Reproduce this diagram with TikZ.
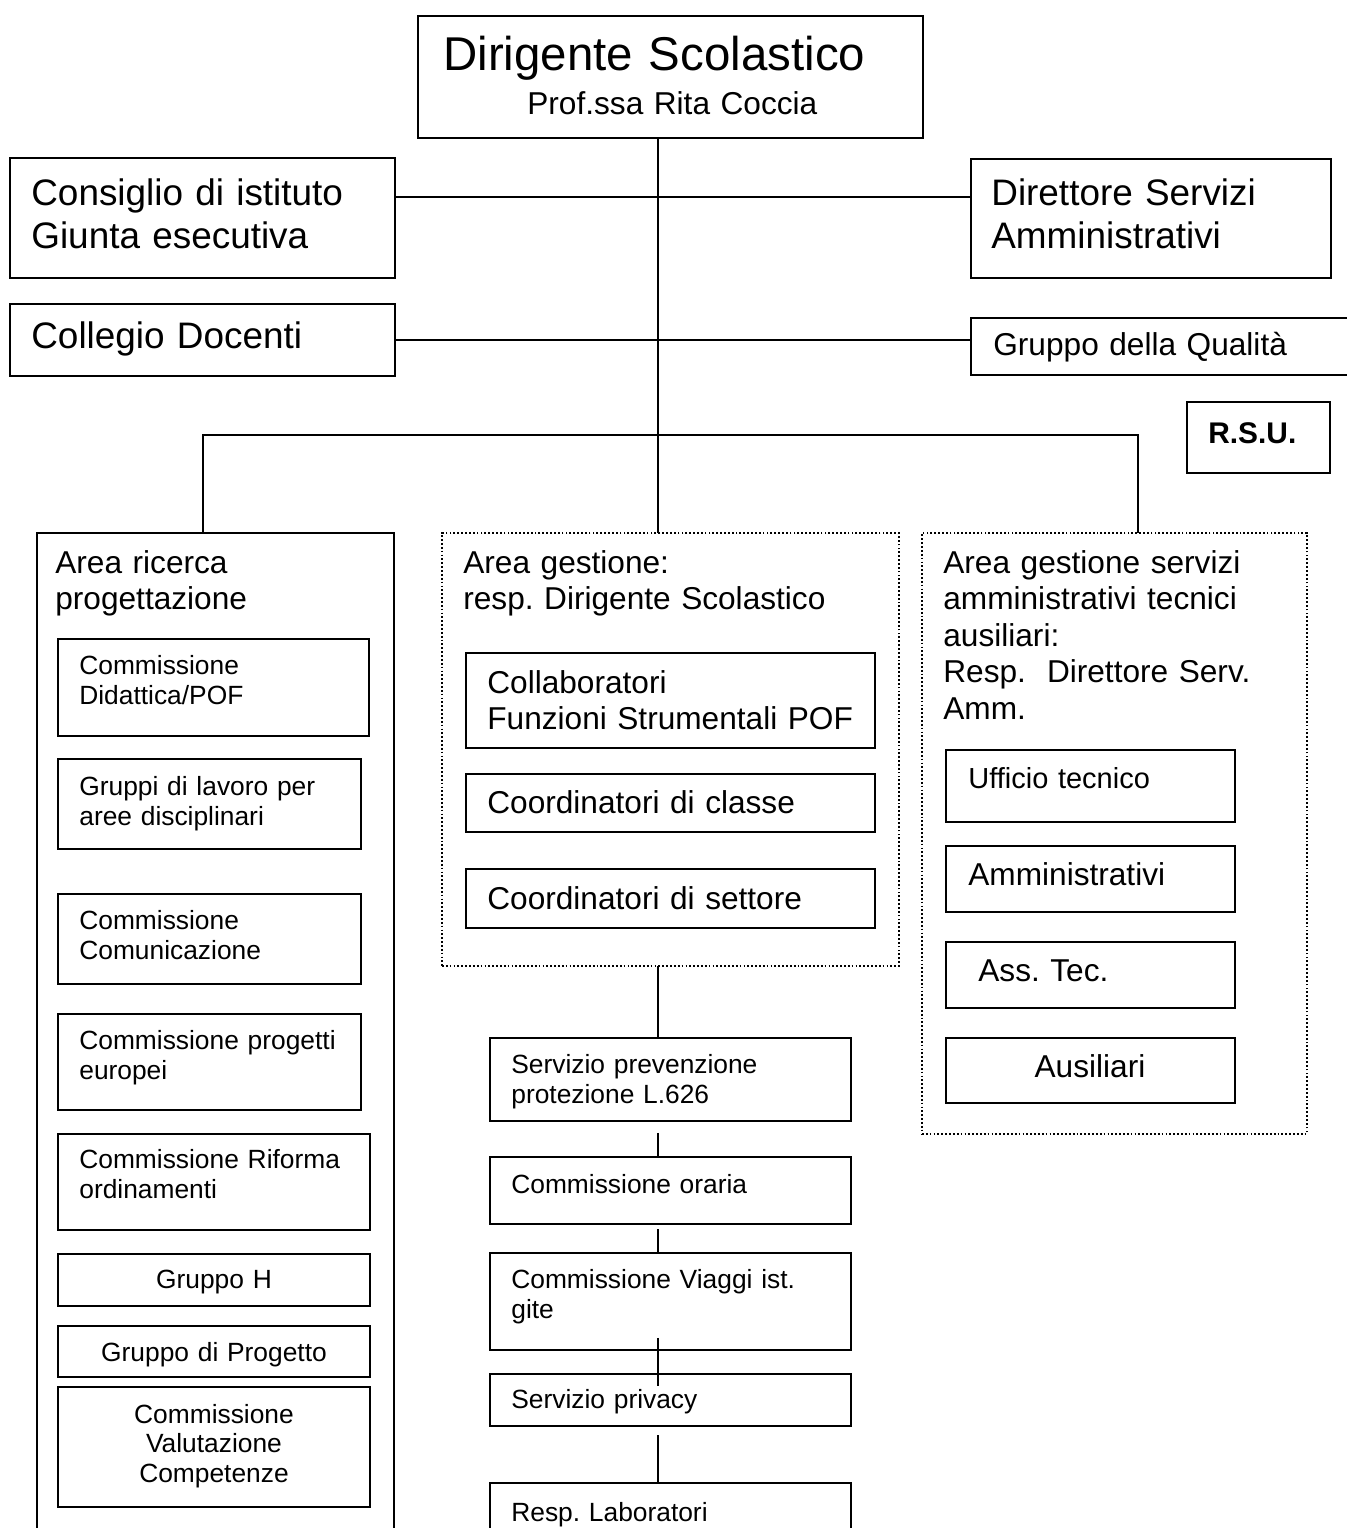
\documentclass[tikz,border=0pt]{standalone}
\usepackage{fontspec}
\setmainfont{Liberation Sans}
\usepackage{tikz}
\frenchspacing

\begin{document}
\begin{tikzpicture}[
    x=0.02cm, y=-0.02cm,
    bx/.style={draw, line width=1pt, anchor=north west, inner sep=0pt, outer sep=0pt},
    area/.style={draw, line width=0.9pt, dash pattern=on 1pt off 1.2pt, anchor=north west, inner sep=0pt, outer sep=0pt},
    ln/.style={line width=1pt},
    txt/.style={anchor=base west, inner sep=0pt, align=left, text width=9cm},
    ctxt/.style={anchor=base, inner sep=0pt, align=center, text width=6cm},
    t27/.style={font=\fontsize{27}{31}\selectfont},
    t21/.style={font=\fontsize{21}{24.5}\selectfont},
    t18/.style={font=\fontsize{18}{21}\selectfont},
    t16/.style={font=\fontsize{16.5}{19}\selectfont},
    t15/.style={font=\fontsize{15}{17.3}\selectfont}
  ]
    \useasboundingbox (0,0) rectangle (1346,1528);

    % vertice e organi collegiali
    \node[bx, minimum width=10.1cm, minimum height=2.44cm] (ds) at (418,16) {};
    \node[txt, t27] (ds-a) at (443,70) {Dirigente Scolastico};
    \node[txt, t18] (ds-b) at (527,114) {Prof.ssa Rita Coccia};

    \node[bx, minimum width=7.7cm, minimum height=2.4cm] (ci) at (10,158) {};
    \node[txt, t21] (ci-t) at (31,205) {Consiglio di istituto\\Giunta esecutiva};
    \node[bx, minimum width=7.2cm, minimum height=2.38cm] (dsa) at (971,159) {};
    \node[txt, t21] (dsa-t) at (991,205) {Direttore Servizi\\Amministrativi};
    \node[bx, minimum width=7.7cm, minimum height=1.44cm] (cd) at (10,304) {};
    \node[txt, t21] (cd-t) at (31,348) {Collegio Docenti};
    \node[bx, minimum width=8.6cm, minimum height=1.14cm] (gq) at (971,318) {};
    \node[txt, t18] (gq-t) at (993,355) {Gruppo della Qualità};
    \node[bx, minimum width=2.86cm, minimum height=1.42cm] (rsu) at (1187,402) {};
    \node[txt, font=\fontsize{17}{20}\selectfont\bfseries] (rsu-t) at (1208,443) {R.S.U.};

    % aree
    \node[bx, minimum width=7.14cm, minimum height=20.6cm] (arp) at (37,533) {};
    \node[txt, t18] (arp-t) at (55,573) {Area ricerca\\progettazione};
    \node[area, minimum width=9.14cm, minimum height=8.66cm] (ag) at (442,533) {};
    \node[txt, t18] (ag-t) at (463,573) {Area gestione:\\resp. Dirigente Scolastico};
    \node[area, minimum width=7.7cm, minimum height=12.02cm] (asa) at (922,533) {};
    \node[txt, font=\fontsize{18}{20.8}\selectfont] (asa-t) at (943,573)
      {Area gestione servizi\\amministrativi tecnici\\ausiliari:\\Resp.\ \ Direttore Serv.\\Amm.};

    % area ricerca progettazione
    \node[bx, minimum width=6.22cm, minimum height=1.94cm] (did) at (58,639) {};
    \node[txt, t15] (did-t) at (79,674) {Commissione\\Didattica/POF};
    \node[bx, minimum width=6.06cm, minimum height=1.8cm] (gdl) at (58,759) {};
    \node[txt, t15] (gdl-t) at (79,795) {Gruppi di lavoro per\\aree disciplinari};
    \node[bx, minimum width=6.06cm, minimum height=1.8cm] (com) at (58,894) {};
    \node[txt, t15] (com-t) at (79,929) {Commissione\\Comunicazione};
    \node[bx, minimum width=6.06cm, minimum height=1.92cm] (eur) at (58,1014) {};
    \node[txt, t15] (eur-t) at (79,1049) {Commissione progetti\\europei};
    \node[bx, minimum width=6.24cm, minimum height=1.92cm] (rif) at (58,1134) {};
    \node[txt, t15] (rif-t) at (79,1168) {Commissione Riforma\\ordinamenti};
    \node[bx, minimum width=6.24cm, minimum height=1.04cm] (gh) at (58,1254) {};
    \node[ctxt, t15] (gh-t) at (214,1288) {Gruppo H};
    \node[bx, minimum width=6.24cm, minimum height=1.02cm] (gp) at (58,1326) {};
    \node[ctxt, t15] (gp-t) at (214,1361) {Gruppo di Progetto};
    \node[bx, minimum width=6.24cm, minimum height=2.4cm] (val) at (58,1387) {};
    \node[ctxt, font=\fontsize{15}{17}\selectfont] (val-t) at (214,1423) {Commissione\\Valutazione\\Competenze};

    % area gestione
    \node[bx, minimum width=8.18cm, minimum height=1.9cm] (col) at (466,653) {};
    \node[txt, t18] (col-t) at (487,693) {Collaboratori\\Funzioni Strumentali POF};
    \node[bx, minimum width=8.18cm, minimum height=1.16cm] (ccl) at (466,774) {};
    \node[txt, t18] (ccl-t) at (487,813) {Coordinatori di classe};
    \node[bx, minimum width=8.18cm, minimum height=1.18cm] (cse) at (466,869) {};
    \node[txt, t18] (cse-t) at (487,909) {Coordinatori di settore};

    \node[bx, minimum width=7.22cm, minimum height=1.66cm] (spp) at (490,1038) {};
    \node[txt, t15] (spp-t) at (511,1073) {Servizio prevenzione\\protezione L.626};
    \node[bx, minimum width=7.22cm, minimum height=1.34cm] (cor) at (490,1157) {};
    \node[txt, t15] (cor-t) at (511,1193) {Commissione oraria};
    \node[bx, minimum width=7.22cm, minimum height=1.94cm] (cvi) at (490,1253) {};
    \node[txt, t15] (cvi-t) at (511,1288) {Commissione Viaggi ist.\\gite};
    \node[bx, minimum width=7.22cm, minimum height=1.04cm] (spr) at (490,1374) {};
    \node[txt, t15] (spr-t) at (511,1408) {Servizio privacy};
    \node[bx, minimum width=7.22cm, minimum height=1.6cm] (rla) at (490,1483) {};
    \node[txt, t15] (rla-t) at (511,1521) {Resp. Laboratori};

    % area servizi amministrativi
    \node[bx, minimum width=5.78cm, minimum height=1.44cm] (uff) at (946,750) {};
    \node[txt, t16] (uff-t) at (968,788) {Ufficio tecnico};
    \node[bx, minimum width=5.78cm, minimum height=1.32cm] (amm) at (946,846) {};
    \node[txt, t18] (amm-t) at (968,885) {Amministrativi};
    \node[bx, minimum width=5.78cm, minimum height=1.32cm] (ass) at (946,942) {};
    \node[txt, t18] (ass-t) at (978,981) {Ass. Tec.};
    \node[bx, minimum width=5.78cm, minimum height=1.3cm] (aus) at (946,1038) {};
    \node[ctxt, t18] (aus-t) at (1090,1077) {Ausiliari};

    % collegamenti
    \coordinate (j1) at (658,197);
    \coordinate (j2) at (658,340);
    \coordinate (bus) at (658,435);
    \draw[ln] (ds.south -| bus) -- (ag.north -| bus);
    \draw[ln] (ci.east |- j1) -- (dsa.west |- j1);
    \draw[ln] (cd.east |- j2) -- (gq.west |- j2);
    \draw[ln] ([xshift=-0.25cm]arp.north) |- (bus) -| ([xshift=0.47cm]asa.north);
    \draw[ln] (ag.south -| bus) -- (spp.north -| bus);
    \draw[ln, shorten <=0.24cm] (spp.south -| bus) -- (cor.north -| bus);
    \draw[ln, shorten <=0.1cm] (cor.south -| bus) -- (cvi.north -| bus);
    \draw[ln, shorten <=-0.24cm, shorten >=-0.24cm] (cvi.south -| bus) -- (spr.north -| bus);
    \draw[ln, shorten <=0.18cm] (spr.south -| bus) -- (rla.north -| bus);
  \end{tikzpicture}
\end{document}
